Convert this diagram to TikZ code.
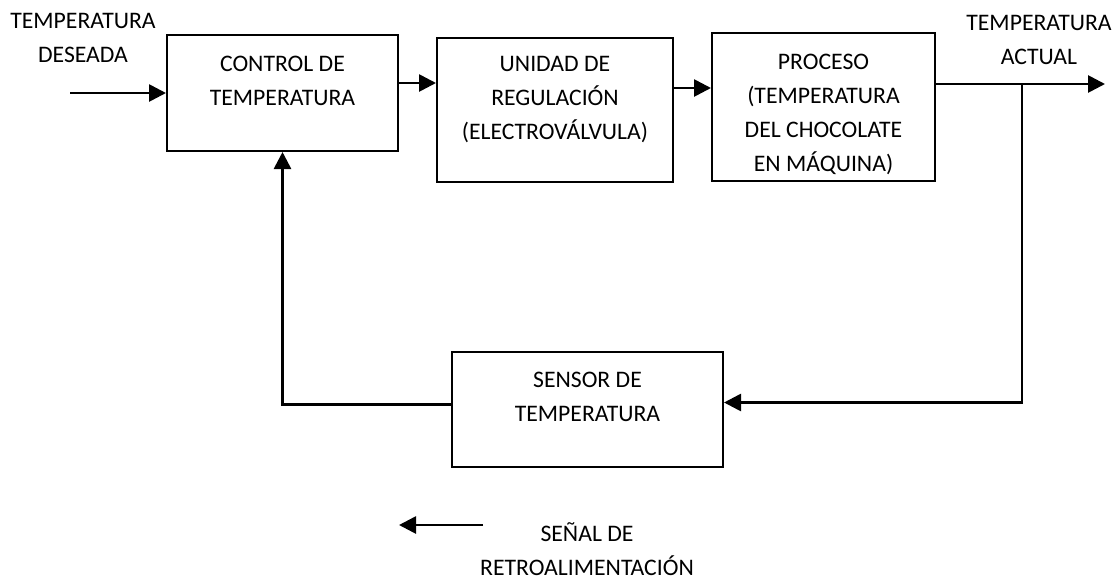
\documentclass[tikz,border=0pt]{standalone}
\usepackage{fontspec}
\setmainfont{Carlito}
\usepackage{tikz}
\usetikzlibrary{arrows.meta,positioning,calc}

\begin{document}
\begin{tikzpicture}[x=1pt, y=-1pt,
	blk/.style={draw=black, line width=2pt, rectangle, inner sep=0pt},
	lbl/.style={align=center, inner sep=0pt, font=\fontsize{23.7}{34}\selectfont},
	arr/.style={line width=2.7pt, -{Triangle[length=17pt,width=17pt]}},
	ln/.style={line width=2.5pt}]

\useasboundingbox (0,0) rectangle (1118,579);

% bloques
\node[blk, minimum width=231pt, minimum height=116pt] (ctrl) at (282.5,93) {};
\node[blk, minimum width=236pt, minimum height=144pt] (reg) at (555,110) {};
\node[blk, minimum width=223pt, minimum height=148pt] (proc) at (823.5,107) {};
\node[blk, minimum width=271pt, minimum height=115pt] (sens) at (587.5,409.5) {};

% textos de bloques
\node[lbl] (ctrltxt) at (282.5,80.5) {CONTROL DE\\TEMPERATURA};
\node[lbl] (regtxt) at (555,99.5) {UNIDAD DE\\REGULACIÓN\\(ELECTROVÁLVULA)};
\node[lbl] (proctxt) at (823.5,114) {PROCESO\\(TEMPERATURA\\DEL CHOCOLATE\\EN MÁQUINA)};
\node[lbl] (senstxt) at (587.5,396.5) {SENSOR DE\\TEMPERATURA};

% entradas y salidas
\node[lbl] (deseada) at (83,38) {TEMPERATURA\\DESEADA};
\node[lbl] (actual) at (1039,39.5) {TEMPERATURA\\ACTUAL};
\coordinate (in) at (70,93);
\coordinate (out) at (1105,84);
\coordinate (tap) at (1022,84);

\draw[arr] (in) -- (ctrl.west);
\draw[arr] ([yshift=10pt]ctrl.east) -- ([yshift=10pt]ctrl.east -| reg.west);
\draw[arr] ([yshift=22pt]reg.east) -- ([yshift=22pt]reg.east -| proc.west);
\draw[arr] (proc.east |- out) -- (out);

% lazo de realimentacion
\draw[arr] (tap) |- ([yshift=7pt]sens.east);
\draw[arr] ([yshift=5pt]sens.west) -| (ctrl.south);

% leyenda
\coordinate (legA) at (483,525);
\coordinate (legB) at (399,525);
\draw[arr] (legA) -- (legB);
\node[lbl] (legtxt) at (587,549) {SEÑAL DE\\RETROALIMENTACIÓN};

\end{tikzpicture}
\end{document}
